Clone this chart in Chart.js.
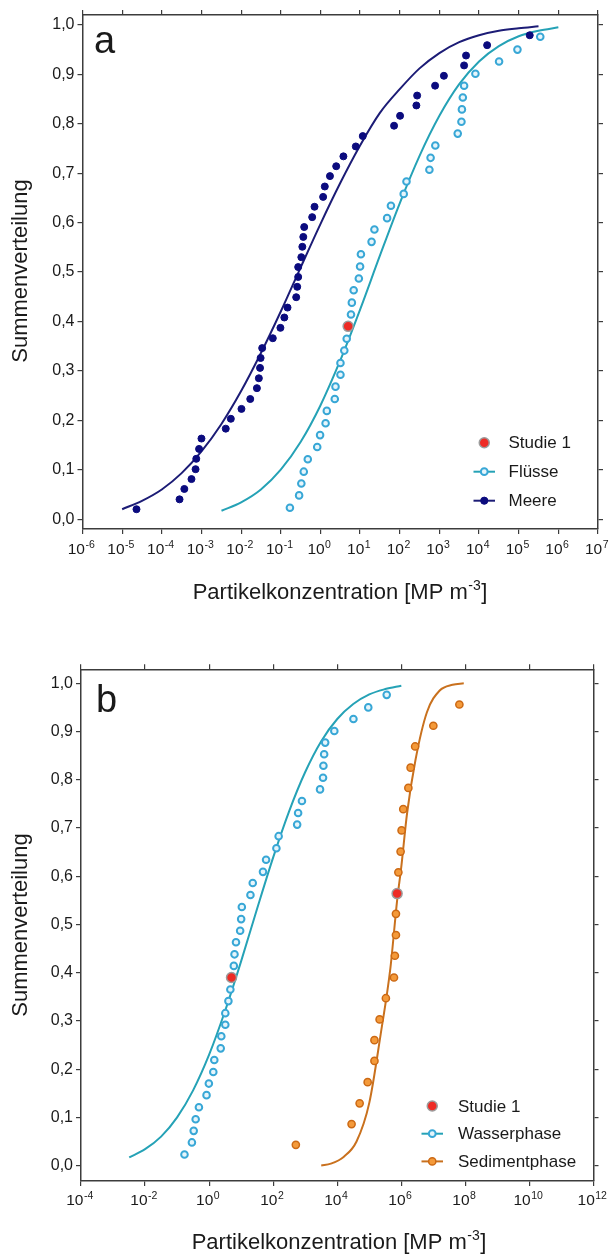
<!DOCTYPE html>
<html><head><meta charset="utf-8">
<script src="https://cdn.jsdelivr.net/npm/chart.js@4"></script>
<style>
html,body{margin:0;padding:0;background:#fff;}
#wrap{position:relative;width:614px;height:1254px;overflow:hidden;}
.c{position:absolute;left:0;width:614px;height:627px;}
</style></head><body>
<div id="wrap">
<div class="c" style="top:0"><canvas id="ca" width="614" height="627"></canvas></div>
<div class="c" style="top:627px"><canvas id="cb" width="614" height="627"></canvas></div>
</div>
<script>
// ---------- data ----------
const xTickExpA = [-6,-5,-4,-3,-2,-1,0,1,2,3,4,5,6,7];
const xTickExpB = [-4,-2,0,2,4,6,8,10,12];
const yTicks = [0,0.1,0.2,0.3,0.4,0.5,0.6,0.7,0.8,0.9,1.0];

// Meere (sea) observations
const meereX = [1.9e5,1.6e4,4.7e3,4.2e3,1.3e3,780,275,263,102,72,11.7,7.8,3.8,2.5,1.74,1.29,1.17,0.71,0.62,0.39,0.37,0.35,0.33,0.275,0.275,0.26,0.245,0.148,0.123,0.098,0.063,0.034,0.031,0.030,0.028,0.025,0.017,0.0102,0.0055,0.0041,0.001,8.7e-4,7.4e-4,7.1e-4,5.6e-4,3.7e-4,2.8e-4,2.3e-5];
const meereY = [0.979,0.959,0.938,0.918,0.897,0.877,0.857,0.837,0.816,0.796,0.775,0.754,0.734,0.714,0.694,0.673,0.652,0.632,0.611,0.591,0.571,0.551,0.530,0.510,0.490,0.470,0.449,0.428,0.408,0.387,0.366,0.346,0.326,0.306,0.285,0.265,0.243,0.223,0.203,0.183,0.163,0.142,0.122,0.101,0.081,0.061,0.040,0.020];
// Meere fitted curve
const meereFitX = [1e-5,3.16e-5,1e-4,3.16e-4,1e-3,3.16e-3,0.01,0.0316,0.1,0.316,1,3.16,10,31.6,100,316,1000,3160,1e4,3.16e4,1e5,3.16e5];
const meereFitY = [0.020,0.037,0.060,0.093,0.137,0.192,0.259,0.336,0.420,0.509,0.597,0.680,0.756,0.822,0.870,0.912,0.943,0.965,0.979,0.988,0.993,0.997];

// Flüsse / Wasserphase observations
const fluX = [3.5e5,9.3e4,3.2e4,8.1e3,4.2e3,3.9e3,3.7e3,3.6e3,2.9e3,790,600,560,148,126,60,48,23,19.5,10.5,10,9.3,6.9,6.2,5.9,5.0,4.6,4.0,3.2,3.2,2.4,2.3,1.45,1.35,0.98,0.83,0.48,0.38,0.33,0.29,0.17];
const fluY = [0.976,0.950,0.926,0.901,0.877,0.853,0.829,0.804,0.780,0.756,0.731,0.707,0.683,0.658,0.634,0.609,0.586,0.561,0.536,0.511,0.487,0.463,0.438,0.414,0.390,0.365,0.341,0.316,0.292,0.268,0.243,0.219,0.194,0.170,0.146,0.121,0.096,0.072,0.048,0.023];
// Flüsse / Wasserphase fitted curve
const fluFitX = [3.2e-3,0.01,0.0316,0.1,0.316,1,3.16,10,31.6,100,316,1000,3160,1e4,3.16e4,1e5,3.16e5,1e6];
const fluFitY = [0.017,0.034,0.060,0.100,0.156,0.230,0.321,0.424,0.533,0.639,0.735,0.816,0.880,0.926,0.957,0.977,0.988,0.995];

// Sedimentphase observations
const sedX = [6.5e7,1.0e7,2.7e6,1.95e6,1.66e6,1.15e6,1.02e6,9.5e5,8.1e5,7.4e5,6.8e5,6.8e5,6.3e5,5.9e5,3.3e5,2.1e5,1.45e5,1.45e5,8.9e4,5.0e4,2.8e4,510];
const sedY = [0.956,0.912,0.869,0.825,0.783,0.739,0.695,0.651,0.608,0.564,0.522,0.478,0.435,0.390,0.347,0.303,0.260,0.217,0.173,0.129,0.086,0.043];
// Sedimentphase fitted curve
const sedFitX = [3.16e3,6.3e3,1.58e4,4.0e4,1.0e5,2.24e5,4.57e5,7.4e5,1.0e6,1.51e6,2.75e6,6.3e6,1.58e7,3.98e7,8.9e7];
const sedFitY = [0.0,0.004,0.018,0.05,0.13,0.27,0.41,0.55,0.62,0.73,0.84,0.94,0.985,0.997,1.0];

// Studie 1
const studieAX = [5.0];
const studieAY = [0.390];
const studieBX = [5.0, 7.4e5];
const studieBY = [0.390, 0.564];

// ---------- styles ----------
const FONT = "'Liberation Sans', Arial, sans-serif";
const TEXT = '#1a1a1a';
const FRAME = '#3c3c3c';
const NAVY_PT = '#0b0b7e', NAVY_LN = '#1c1c76';
const CYAN_PT = '#38a7d6', CYAN_FILL = '#e6f5fb', CYAN_LN = '#25a2b6';
const ORA_FILL = '#f49a3a', ORA_PT = '#cc6914', ORA_LN = '#c9711e';
const RED_FILL = '#ee2b25', RED_RING = '#9c9c9c';

const pts = (xs, ys) => xs.map((x, i) => ({x: x, y: ys[i]}));

function lineDS(label, xs, ys, color) {
  return {label, data: pts(xs, ys), showLine: true, pointRadius: 0, borderColor: color,
    borderWidth: 2, fill: false, cubicInterpolationMode: 'monotone', order: 5};
}
function ptDS(label, xs, ys, fill, stroke, r, bw, order) {
  return {label, data: pts(xs, ys), showLine: false, pointRadius: r, pointHoverRadius: r,
    pointBackgroundColor: fill, pointBorderColor: stroke, pointBorderWidth: bw,
    backgroundColor: fill, borderColor: stroke, order: order};
}

function drawDecor(chart, spec) {
  const ctx = chart.ctx, xs = chart.scales.x;
  ctx.save();
  ctx.fillStyle = TEXT;
  ctx.textBaseline = 'alphabetic';
  ctx.textAlign = 'left';
  // x tick labels with superscript exponents
  spec.xExp.forEach(e => {
    const px = xs.getPixelForValue(Math.pow(10, e));
    const base = '10', sup = String(e);
    ctx.font = '15.5px ' + FONT; const w1 = ctx.measureText(base).width;
    ctx.font = '10.5px ' + FONT; const w2 = ctx.measureText(sup).width;
    const x0 = px - (w1 + w2) / 2 - 1.5;
    ctx.font = '15.5px ' + FONT; ctx.fillText(base, x0, spec.tickBase);
    ctx.font = '10.5px ' + FONT; ctx.fillText(sup, x0 + w1 + 0.5, spec.tickBase - 6);
  });
  // x title
  const t1 = 'Partikelkonzentration [MP m', t2 = '-3', t3 = ']';
  ctx.font = '22px ' + FONT; const a1 = ctx.measureText(t1).width, a3 = ctx.measureText(t3).width;
  ctx.font = '14px ' + FONT; const a2 = ctx.measureText(t2).width;
  let tx = spec.xTitleX - (a1 + a2 + a3 + 1) / 2;
  ctx.font = '22px ' + FONT; ctx.fillText(t1, tx, spec.xTitleBase); tx += a1 + 0.5;
  ctx.font = '14px ' + FONT; ctx.fillText(t2, tx, spec.xTitleBase - 9); tx += a2 + 0.5;
  ctx.font = '22px ' + FONT; ctx.fillText(t3, tx, spec.xTitleBase);
  // y title
  ctx.save();
  ctx.translate(spec.yTitleX, spec.yTitleY);
  ctx.rotate(-Math.PI / 2);
  ctx.textAlign = 'center'; ctx.textBaseline = 'middle';
  ctx.font = '22px ' + FONT;
  ctx.fillText('Summenverteilung', 0, 0);
  ctx.restore();
  // panel letter
  ctx.font = '38px ' + FONT; ctx.textAlign = 'left'; ctx.textBaseline = 'alphabetic';
  ctx.fillText(spec.letter, spec.letterX, spec.letterBase);
  // legend
  ctx.textBaseline = 'middle';
  spec.legend.forEach((it, i) => {
    const y = spec.legY + i * spec.legGap;
    if (it.line) {
      ctx.beginPath(); ctx.strokeStyle = it.line; ctx.lineWidth = 2;
      ctx.moveTo(spec.legL0, y); ctx.lineTo(spec.legL1, y); ctx.stroke();
    }
    ctx.beginPath();
    ctx.arc((spec.legL0 + spec.legL1) / 2, y, it.r, 0, Math.PI * 2);
    ctx.fillStyle = it.fill; ctx.fill();
    ctx.lineWidth = it.bw; ctx.strokeStyle = it.stroke; ctx.stroke();
    ctx.fillStyle = TEXT; ctx.font = '17px ' + FONT;
    ctx.fillText(it.label, spec.legTx, y + 1);
  });
  ctx.restore();
}

function makeChart(id, spec) {
  const W = 614, H = 627;
  const decades = spec.xExp.map(e => Math.pow(10, e));
  const setTicks = vals => scale => { scale.ticks = vals.map(v => ({value: v})); };
  const grid = {display: true, drawOnChartArea: false, drawTicks: true, tickLength: 5, color: FRAME, lineWidth: 1.2};
  const border = {display: true, color: FRAME, width: 1.5};
  const xBase = {type: 'logarithmic', min: decades[0], max: decades[decades.length - 1],
    grid: grid, border: border, ticks: {display: false, autoSkip: false}, afterBuildTicks: setTicks(decades)};
  const yBase = {type: 'linear', min: spec.yMin, max: spec.yMax, grid: grid, border: border,
    afterBuildTicks: setTicks(yTicks)};
  return new Chart(document.getElementById(id), {
    type: 'scatter',
    data: {datasets: spec.datasets},
    options: {
      responsive: false, animation: false, devicePixelRatio: 1,
      layout: {padding: 0},
      plugins: {legend: {display: false}, tooltip: {enabled: false}},
      scales: {
        x: Object.assign({}, xBase, {position: 'bottom', afterFit: s => { s.height = H - spec.B; }}),
        x2: Object.assign({}, xBase, {position: 'top', afterFit: s => { s.height = spec.T; }}),
        y: Object.assign({}, yBase, {position: 'left',
          ticks: {display: true, autoSkip: false, padding: 3, color: TEXT, font: {size: 16, family: FONT},
            callback: v => Number(v).toFixed(1).replace('.', ',')},
          afterFit: s => { s.width = spec.L; }}),
        y2: Object.assign({}, yBase, {position: 'right', ticks: {display: false},
          afterFit: s => { s.width = W - spec.R; }})
      }
    },
    plugins: [{id: 'decor', afterDraw: chart => drawDecor(chart, spec)}]
  });
}

// ---------- panel a ----------
makeChart('ca', {
  xExp: xTickExpA, yMin: -0.02, yMax: 1.02,
  L: 82.5, R: 598, T: 15, B: 529,
  tickBase: 553.5, xTitleX: 340, xTitleBase: 598.5, yTitleX: 20.5, yTitleY: 271,
  letter: 'a', letterX: 94, letterBase: 53,
  legY: 442.7, legGap: 29, legL0: 473.5, legL1: 495, legTx: 508.5,
  legend: [
    {label: 'Studie 1', fill: RED_FILL, stroke: RED_RING, r: 5, bw: 1.5},
    {label: 'Flüsse', line: CYAN_LN, fill: CYAN_FILL, stroke: CYAN_PT, r: 3.4, bw: 2},
    {label: 'Meere', line: NAVY_LN, fill: NAVY_PT, stroke: NAVY_PT, r: 3.6, bw: 1}
  ],
  datasets: [
    ptDS('Studie 1', studieAX, studieAY, RED_FILL, RED_RING, 5, 1.5, 0),
    ptDS('Flüsse', fluX, fluY, CYAN_FILL, CYAN_PT, 3.3, 2, 1),
    ptDS('Meere', meereX, meereY, NAVY_PT, NAVY_PT, 3.5, 1, 2),
    lineDS('Flüsse Fit', fluFitX, fluFitY, CYAN_LN),
    lineDS('Meere Fit', meereFitX, meereFitY, NAVY_LN)
  ]
});

// ---------- panel b ----------
makeChart('cb', {
  xExp: xTickExpB, yMin: -0.032, yMax: 1.029,
  L: 81, R: 593.5, T: 42.3, B: 554,
  tickBase: 578, xTitleX: 339, xTitleBase: 622, yTitleX: 20.5, yTitleY: 298,
  letter: 'b', letterX: 96, letterBase: 85,
  legY: 479, legGap: 27.7, legL0: 421.5, legL1: 443, legTx: 458,
  legend: [
    {label: 'Studie 1', fill: RED_FILL, stroke: RED_RING, r: 5, bw: 1.5},
    {label: 'Wasserphase', line: CYAN_LN, fill: CYAN_FILL, stroke: CYAN_PT, r: 3.4, bw: 2},
    {label: 'Sedimentphase', line: ORA_LN, fill: ORA_FILL, stroke: ORA_PT, r: 3.6, bw: 1.5}
  ],
  datasets: [
    ptDS('Studie 1', studieBX, studieBY, RED_FILL, RED_RING, 5, 1.5, 0),
    ptDS('Wasserphase', fluX, fluY, CYAN_FILL, CYAN_PT, 3.3, 2, 1),
    ptDS('Sedimentphase', sedX, sedY, ORA_FILL, ORA_PT, 3.6, 1.5, 2),
    lineDS('Wasserphase Fit', fluFitX, fluFitY, CYAN_LN),
    lineDS('Sedimentphase Fit', sedFitX, sedFitY, ORA_LN)
  ]
});
</script>
</body></html>
